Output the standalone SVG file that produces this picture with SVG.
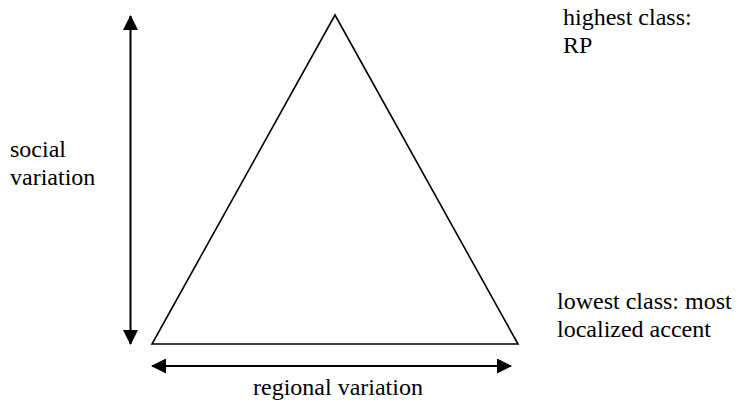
<svg xmlns="http://www.w3.org/2000/svg" width="737" height="404" viewBox="0 0 737 404">
<style>
text{font-family:"Liberation Serif","Times New Roman",serif;font-size:24px;fill:#000}
.ln{stroke:#000;stroke-width:2;fill:none}
</style>
<defs>
<marker id="ah" markerWidth="15" markerHeight="15" refX="14" refY="7.5" orient="auto" markerUnits="userSpaceOnUse" viewBox="0 0 15 15">
<path d="M0,0 L15,7.5 L0,15 Z" fill="#000"/>
</marker>
</defs>
<g id="triangle">
<polygon points="335,15 152,344 518,344" fill="none" stroke="#000" stroke-width="1.6"/>
</g>
<g id="connectors">
<line class="ln" x1="130.5" y1="180" x2="130.5" y2="16" marker-end="url(#ah)"/>
<line class="ln" x1="130.5" y1="180" x2="130.5" y2="344" marker-end="url(#ah)"/>
<line class="ln" x1="330" y1="366" x2="152" y2="366" marker-end="url(#ah)"/>
<line class="ln" x1="330" y1="366" x2="511" y2="366" marker-end="url(#ah)"/>
</g>
<g id="label-social">
<text x="10" y="157" font-family="Liberation Serif, serif" font-size="24px">social</text>
<text x="10" y="185" font-family="Liberation Serif, serif" font-size="24px">variation</text>
</g>
<g id="label-highest">
<text x="563" y="25" font-family="Liberation Serif, serif" font-size="24px">highest class:</text>
<text x="563" y="53" font-family="Liberation Serif, serif" font-size="24px">RP</text>
</g>
<g id="label-lowest">
<text x="557" y="309" font-family="Liberation Serif, serif" font-size="24px">lowest class: most</text>
<text x="557" y="337" font-family="Liberation Serif, serif" font-size="24px">localized accent</text>
</g>
<g id="label-regional">
<text x="253" y="395" font-family="Liberation Serif, serif" font-size="24px">regional variation</text>
</g>
</svg>
